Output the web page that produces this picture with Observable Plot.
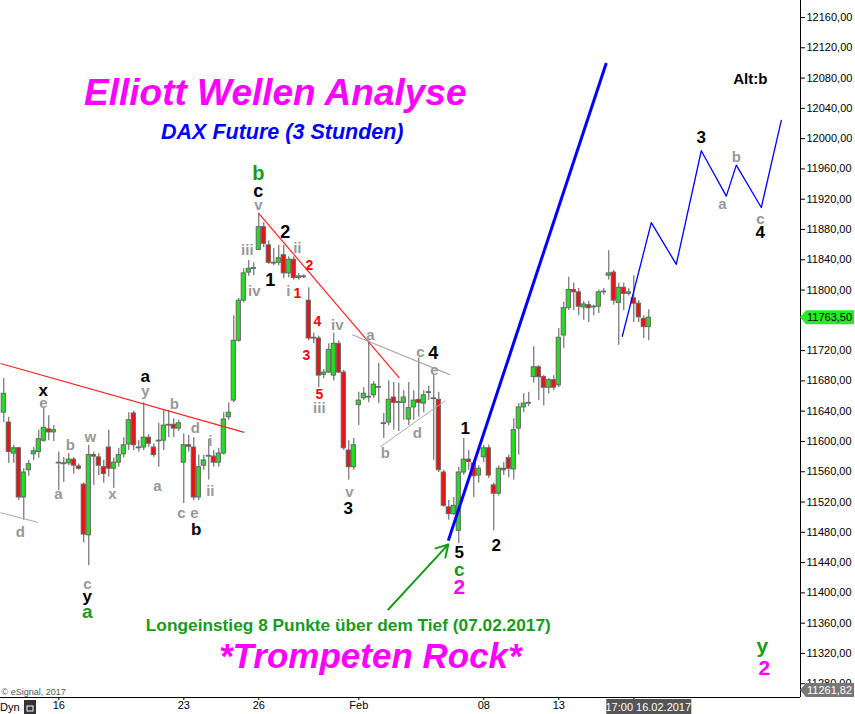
<!DOCTYPE html>
<html><head><meta charset="utf-8">
<script src="https://cdn.jsdelivr.net/npm/d3@7"></script>
<script src="https://cdn.jsdelivr.net/npm/@observablehq/plot@0.6"></script>
<style>body{margin:0;background:#fff} svg{display:block}</style>
</head><body><div id="chart"></div>
<script>
// ---- DAX Future 3h candles (index 0 = last bar of 11 Jan 2017) ----
const open = [11638,11625,11584,11591,11526,11562,11583,11586,11601,11616,
 11612,11571,11571,11571,11576,11567,11543,11476,11582,11579,
 11566,11592,11564,11572,11583,11596,11637,11591,11592,11605,
 11592,11601,11601,11621,11622,11617,11572,11595,11592,11526,
 11568,11580,11580,11572,11584,11632,11654,11733,11786,11823,
 11828,11853,11883,11859,11836,11836,11846,11822,11840,11816,
 11818,11786,11736,11736,11688,11691,11687,11729,11691,11588,
 11566,11648,11657,11658,11661,11671,11624,11625,11658,11651,
 11651,11629,11645,11655,11650,11665,11657,11655,11559,11513,
 11504,11482,11559,11576,11571,11555,11579,11591,11542,11531,
 11564,11578,11563,11617,11645,11650,11685,11698,11685,11671,
 11681,11674,11740,11776,11800,11797,11777,11780,11777,11778,
 11797,11819,11823,11783,11803,11795,11789,11782,11762,11751];
const close = [11663,11586,11591,11526,11559,11570,11587,11603,11618,11612,
 11615,11572,11570,11576,11568,11564,11477,11582,11580,11568,
 11557,11564,11572,11582,11595,11628,11595,11592,11605,11597,
 11582,11600,11621,11622,11617,11624,11595,11593,11526,11566,
 11575,11581,11572,11584,11629,11638,11733,11786,11822,11828,
 11829,11883,11861,11836,11835,11842,11822,11840,11816,11818,
 11817,11736,11737,11687,11691,11721,11729,11691,11591,11566,
 11595,11654,11663,11659,11675,11672,11623,11655,11651,11652,
 11658,11644,11654,11651,11661,11664,11656,11562,11515,11504,
 11515,11559,11576,11573,11554,11564,11591,11555,11531,11564,
 11562,11564,11615,11645,11650,11651,11698,11685,11671,11681,
 11671,11737,11776,11800,11797,11778,11781,11776,11778,11797,
 11798,11822,11786,11803,11795,11797,11782,11764,11751,11763.5];
const high = [11683,11632,11595,11592,11564,11575,11592,11615,11644,11634,
 11621,11586,11579,11584,11579,11570,11545,11595,11586,11584,
 11575,11615,11578,11591,11605,11638,11640,11601,11651,11609,
 11597,11624,11641,11641,11630,11628,11610,11608,11605,11582,
 11582,11603,11588,11591,11638,11651,11766,11789,11828,11839,
 11836,11901,11889,11865,11855,11859,11859,11844,11844,11822,
 11820,11803,11743,11739,11695,11729,11743,11733,11694,11601,
 11604,11665,11671,11733,11679,11703,11637,11680,11678,11677,
 11667,11678,11667,11710,11667,11673,11687,11665,11562,11522,
 11526,11566,11604,11588,11575,11568,11595,11595,11545,11568,
 11572,11582,11630,11650,11663,11665,11725,11700,11687,11683,
 11687,11749,11784,11817,11809,11802,11785,11785,11780,11800,
 11802,11852,11826,11809,11809,11802,11819,11786,11766,11774];
const low = [11625,11571,11571,11522,11496,11554,11575,11578,11599,11601,
 11600,11535,11546,11568,11557,11562,11466,11436,11542,11555,
 11545,11553,11538,11566,11578,11588,11588,11586,11588,11592,
 11579,11566,11588,11605,11605,11613,11518,11586,11522,11522,
 11562,11549,11566,11566,11582,11628,11651,11731,11783,11818,
 11819,11852,11856,11834,11832,11832,11815,11816,11813,11813,
 11815,11733,11729,11671,11683,11690,11680,11690,11588,11549,
 11562,11621,11654,11651,11657,11650,11604,11621,11615,11613,
 11628,11621,11628,11632,11638,11654,11575,11559,11513,11496,
 11502,11465,11555,11562,11526,11545,11572,11551,11482,11528,
 11555,11552,11549,11582,11638,11646,11677,11654,11647,11663,
 11667,11671,11723,11773,11773,11766,11760,11757,11766,11769,
 11793,11813,11780,11727,11773,11792,11757,11757,11736,11733];

// x-axis ticks (bar index of the first bar of each labelled day); last label is hidden by the crosshair box
const tickIdx = [11, 36, 51, 71, 96, 111, 126];
const tickLabels = ["16", "23", "26", "Feb", "08", "13", ""];
// y-axis tick values shown (11760 is covered by the last-price tag)
const yTicks = [11280, 11320, 11360, 11400, 11440, 11480, 11520, 11560, 11600, 11640, 11680, 11720,
  11800, 11840, 11880, 11920, 11960, 12000, 12040, 12080, 12120, 12160];
const lastPrice = 11763.5;
const bottomPrice = 11261.82;
const crossIdx = 129;
const crossLabel = "17:00 16.02.2017";

// Elliott wave labels: text, bar index, price, colour key, size
const waveText  = ["x","e","d","a","b","w","x","c","y","a","a","y","b","a","d","i","ii","c","e","b",
  "b","c","v","iii","iv","2","ii","1","i","1","2","4","3","iv","5","iii","a","c","4","e","b","d","v","3",
  "1","5","c","2","2","3","b","a","c","4","y","2"];
const waveIdx   = [7.9,7.9,3.3,10.9,13.3,17.3,21.7,16.7,16.7,16.7,28.3,28.3,34.1,30.7,38.3,41.3,41.3,35.5,38.1,38.5,
  50.9,50.9,50.9,48.7,50.1,56.3,58.7,53.3,56.9,58.7,61.1,62.7,60.5,66.7,63.1,63.1,73.3,83.3,85.9,86.1,76.3,82.7,69.1,68.9,
  92.3,91.1,91.1,91.1,98.5,139.5,146.5,143.7,151.3,151.3,151.7,152.1];
const wavePrice = [11667,11650,11480,11530,11595,11605,11530,11412,11395,11375,11686,11667,11649,11541,11617,11601,11534,11505,11505,11484,
  11954,11931,11912,11852,11799,11876,11855,11813,11798,11795,11832,11758,11714,11753,11662,11644,11740,11718,11716,11694,11584,11611,11533,11511,
  11617,11453,11431,11407,11463,12002,11975,11914,11893,11876,11329,11301];
const waveColor = ["k","g","g","g","g","g","g","g","k","G","k","g","g","g","g","g","g","g","g","k",
  "G","k","g","g","g","k","g","k","g","r","r","r","r","g","r","g","g","g","k","g","g","g","g","k",
  "k","k","G","m","k","k","g","g","g","k","G","m"];
const waveSize  = [17,15,15,15,15,15,15,15,17,19,17,15,15,15,15,15,15,15,15,17,
  20,18,15,15,15,18,15,18,15,14,14,14,14,15,14,15,15,15,18,15,15,15,15,17,
  17,17,19,21,17,17,15,15,15,17,21,21];

// trend lines: [idx1, price1, idx2, price2, colour, width]
const trendLines = [
  [-0.66, 11703, 48.1, 11612, "#ff2020", 1.2],
  [-0.66, 11506, 6.9, 11493, "#aaaaaa", 1],
  [50.9, 11902, 79.1, 11684, "#ff2020", 1.2],
  [69.7, 11741, 89.3, 11688, "#aaaaaa", 1.2],
  [75.3, 11593, 88.3, 11654, "#aaaaaa", 1],
  [88.9, 11469, 120.5, 12100, "#0000ff", 3]
];
// projected path
const projIdx   = [123.7, 129.5, 134.5, 139.5, 144.5, 146.5, 151.5, 155.5];
const projPrice = [11739, 11889, 11834, 11984, 11924, 11965, 11909, 12024];
// green arrow
const arrowFrom = [76.9, 11378], arrowTo = [88.9, 11464];

// headings: text, idx, price, colour, size, style
const headings = [
  ["Elliott Wellen Analyse", 54.3, 12060, "#ff00ff", 37, "italic"],
  ["DAX Future (3 Stunden)", 55.7, 12009, "#0000ff", 21.5, "italic"],
  ["Longeinstieg 8 Punkte über dem Tief (07.02.2017)", 68.9, 11357, "#1a9a1a", 17.3, "normal"],
  ["*Trompeten Rock*", 73.3, 11316, "#ff00ff", 35, "italic"],
  ["Alt:b", 149.3, 12078, "#000000", 15, "normal"]
];

const colorMap = {k: "#000000", g: "#999999", r: "#ff0000", G: "#1a9a1a", m: "#ff00ff"};
const upColor = "#22dd22", downColor = "#ee1111";

const candles = open.map((o, i) => ({i, open: o, close: close[i], high: high[i], low: low[i]}));
const waves = waveText.map((t, k) => ({t, i: waveIdx[k], p: wavePrice[k], c: colorMap[waveColor[k]], s: waveSize[k]}));
const links = trendLines.map(([a, b, c, d, col, w]) => ({a, b, c, d, col, w}));
const proj = projIdx.map((x, k) => ({x, p: projPrice[k]}));
const labelMap = new Map(tickIdx.map((d, k) => [d, tickLabels[k]]));
const xDomain = [-0.66, 159.34];
const yDomain = [bottomPrice, 12182.45];
const font = "Liberation Sans, Arial, sans-serif";

const marks = [
  Plot.ruleX(candles, {x: "i", y1: "low", y2: "high", stroke: "#555", strokeWidth: 1}),
  Plot.rect(candles, {x1: d => d.i - 0.42, x2: d => d.i + 0.42, y1: "open", y2: "close",
    fill: d => d.close >= d.open ? upColor : downColor, stroke: "#666", strokeWidth: 1}),
  Plot.link(links, {x1: "a", y1: "b", x2: "c", y2: "d", stroke: "col", strokeWidth: "w"}),
  Plot.line(proj, {x: "x", y: "p", stroke: "#0000ff", strokeWidth: 1.3}),
  Plot.arrow([0], {x1: () => arrowFrom[0], y1: () => arrowFrom[1], x2: () => arrowTo[0], y2: () => arrowTo[1],
    stroke: "#1a9a1a", strokeWidth: 2, headLength: 10}),
  Plot.text(waves, {x: "i", y: "p", text: "t", fill: "c", fontSize: "s", fontWeight: "bold", fontFamily: font}),
  ...headings.map(([t, x, p, c, s, st]) => Plot.text([t], {x: () => x, y: () => p, text: d => d, fill: c,
    fontSize: s, fontWeight: "bold", fontStyle: st, fontFamily: font})),
  Plot.text(["© eSignal, 2017"], {frameAnchor: "bottom-left", text: d => d, dx: 1, dy: -3, fontSize: 9, fill: "#555", fontFamily: font}),
  Plot.ruleY([bottomPrice], {stroke: "#000"}),
  Plot.ruleX([xDomain[1]], {stroke: "#000"}),
  Plot.axisY(yTicks, {anchor: "right", tickFormat: d => d.toFixed(2).replace(".", ","), tickSize: 4, tickPadding: 2,
    fontSize: 11, fontFamily: font}),
  Plot.axisX(tickIdx, {anchor: "bottom", tickFormat: d => labelMap.get(d), tickSize: 3, tickPadding: 1,
    fontSize: 11, fontFamily: font})
];

const chart = Plot.plot({
  width: 855, height: 714,
  marginLeft: 0, marginRight: 55, marginTop: 0, marginBottom: 17,
  x: {type: "linear", domain: xDomain},
  y: {type: "linear", domain: yDomain},
  style: {fontFamily: font, background: "#fff", overflow: "visible"},
  marks
});
document.getElementById("chart").appendChild(chart);

// price labels on the right axis and crosshair label, positioned with Plot's scales
const sx = chart.scale("x"), sy = chart.scale("y");
const svg = d3.select(chart);
const xr = sx.apply(xDomain[1]);
function priceTag(price, fill, color) {
  const y = Math.min(sy.apply(price), 697 - 7);
  const g = svg.append("g").attr("text-anchor", "start");
  g.append("path").attr("d", `M${xr},${y} L${xr + 6},${y - 7} L${xr + 54},${y - 7} L${xr + 54},${y + 7} L${xr + 6},${y + 7} Z`)
    .attr("fill", fill);
  g.append("text").attr("x", xr + 7).attr("y", y).attr("dy", "0.36em").attr("fill", color)
    .attr("text-anchor", "start").attr("font-size", 11).attr("font-family", font).text(price.toFixed(2).replace(".", ","));
}
priceTag(lastPrice, "#22ee22", "#000");
priceTag(bottomPrice, "#777", "#fff");
const cx = sx.apply(crossIdx);
const cg = svg.append("g");
cg.append("rect").attr("x", cx - 42).attr("y", 699).attr("width", 85).attr("height", 15).attr("fill", "#555");
cg.append("text").attr("x", cx).attr("y", 707).attr("dy", "0.36em").attr("text-anchor", "middle").attr("fill", "#fff")
  .attr("font-size", 11).attr("font-family", font).text(crossLabel);
const dg = svg.append("g").attr("text-anchor", "start");
dg.append("text").attr("x", 0).attr("y", 707).attr("dy", "0.36em").attr("text-anchor", "start")
  .attr("font-size", 11).attr("font-family", font).text("Dyn");
dg.append("rect").attr("x", 24).attr("y", 700).attr("width", 12).attr("height", 14).attr("fill", "#333");
dg.append("rect").attr("x", 27).attr("y", 706).attr("width", 6).attr("height", 5).attr("fill", "none").attr("stroke", "#fff");
</script></body></html>
